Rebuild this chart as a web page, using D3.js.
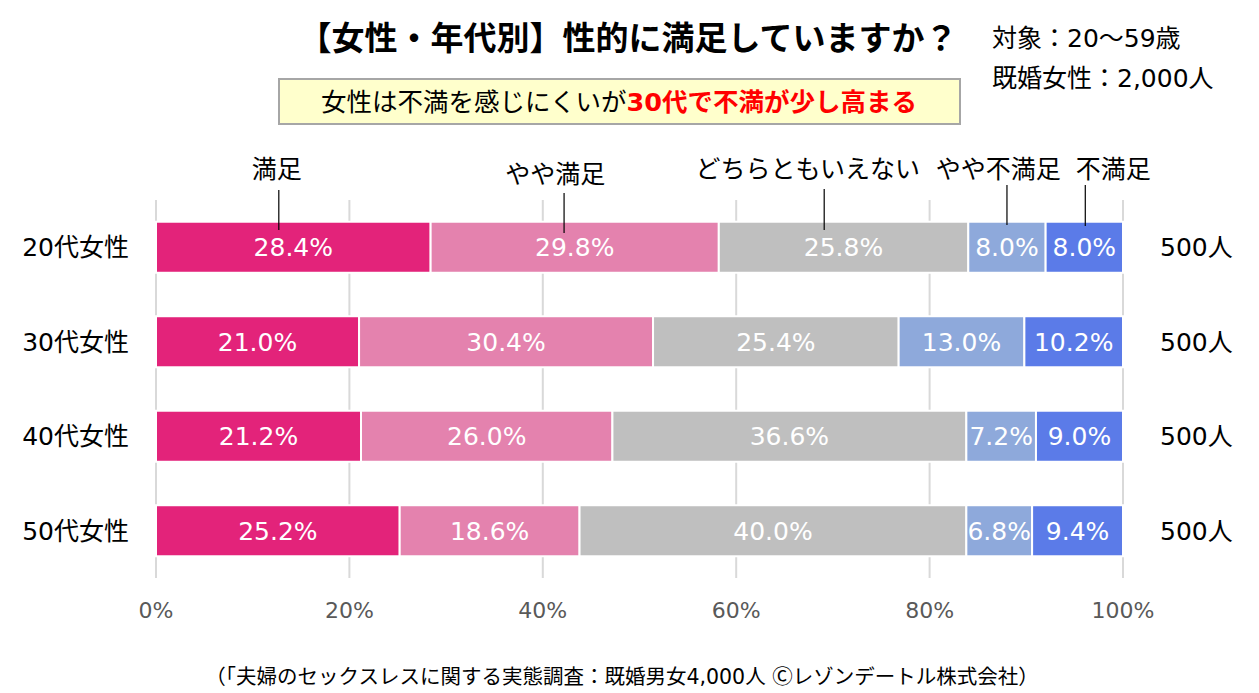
<!DOCTYPE html>
<html><head><meta charset="utf-8">
<script src="https://cdn.jsdelivr.net/npm/d3@7"></script>
<style>
html,body{margin:0;padding:0;background:#fff;}
svg{display:block;font-family:"DejaVu Sans","Noto Sans CJK JP",sans-serif;}
</style></head>
<body>
<svg id="chart" width="1259" height="693"></svg>
<script>
const rows = ["20代女性","30代女性","40代女性","50代女性"];
const series = ["満足","やや満足","どちらともいえない","やや不満足","不満足"];
const v_manzoku   = [28.4, 21.0, 21.2, 25.2];
const v_yaya      = [29.8, 30.4, 26.0, 18.6];
const v_dochira   = [25.8, 25.4, 36.6, 40.0];
const v_yayafuman = [8.0, 13.0, 7.2, 6.8];
const v_fuman     = [8.0, 10.2, 9.0, 9.4];
const nLabels = ["500人","500人","500人","500人"];
const ticks = [0,20,40,60,80,100];
const colors = ["#E3237A","#E482AE","#BFBFBF","#8EA9DB","#5B7BE8"];
// annotation anchors (percent units)
const seriesLabelX = [12.5, 41.3, 67.4, 87.1, 99.0];
const leaderX = [12.7, 42.2, 69.1, 88.0, 96.1];

const values = [v_manzoku, v_yaya, v_dochira, v_yayafuman, v_fuman];
const table = rows.map((r,i)=>{const o={row:r}; series.forEach((s,j)=>o[s]=values[j][i]); return o;});
const stacked = d3.stack().keys(series)(table);

const svg = d3.select("#chart");
const x = d3.scaleLinear().domain([0,100]).range([156,1123]);
const y = d3.scaleBand().domain(rows).range([200,578]).paddingInner(0.46).paddingOuter(0.23);

// gridlines
svg.append("g").selectAll("line").data(ticks).join("line")
  .attr("x1",d=>x(d)).attr("x2",d=>x(d)).attr("y1",200).attr("y2",578)
  .attr("stroke","#D9D9D9").attr("stroke-width",2);

// tick labels
svg.append("g").selectAll("text").data(ticks).join("text")
  .attr("x",d=>x(d)).attr("y",618).attr("text-anchor","middle")
  .attr("font-size",22).attr("fill","#595959").text(d=>d+"%");

// bars
const g = svg.append("g");
stacked.forEach((layer,j)=>{
  g.append("g").selectAll("rect").data(layer).join("rect")
    .attr("x",d=>x(d[0])).attr("width",d=>x(d[1])-x(d[0]))
    .attr("y",d=>y(d.data.row)).attr("height",y.bandwidth())
    .attr("fill",colors[j]).attr("stroke","#fff").attr("stroke-width",2);
});
stacked.forEach((layer,j)=>{
  g.append("g").selectAll("text").data(layer).join("text")
    .attr("x",d=>(x(d[0])+x(d[1]))/2).attr("y",d=>y(d.data.row)+y.bandwidth()/2)
    .attr("dy","0.36em").attr("text-anchor","middle").attr("font-size",25)
    .attr("fill","#fff").text(d=>(d[1]-d[0]).toFixed(1)+"%");
});

// row labels
svg.append("g").selectAll("text").data(rows).join("text")
  .attr("x",129).attr("y",d=>y(d)+y.bandwidth()/2).attr("dy","0.36em")
  .attr("text-anchor","end").attr("font-size",25).attr("fill","#000").text(d=>d);
svg.append("g").selectAll("text").data(rows).join("text")
  .attr("x",1160).attr("y",d=>y(d)+y.bandwidth()/2).attr("dy","0.36em")
  .attr("text-anchor","start").attr("font-size",25).attr("fill","#000").text((d,i)=>nLabels[i]);

// series labels + leader lines
const labelY = [178,183,178,178,178];
const lineTop = [190,193,189,185,185];
const lineBot = [230,233,230,225,226];
svg.append("g").selectAll("text").data(series).join("text")
  .attr("x",(d,i)=>x(seriesLabelX[i])).attr("y",(d,i)=>labelY[i])
  .attr("text-anchor","middle").attr("font-size",25).attr("fill","#000").text(d=>d);
svg.append("g").selectAll("line").data(series).join("line")
  .attr("x1",(d,i)=>x(leaderX[i])).attr("x2",(d,i)=>x(leaderX[i]))
  .attr("y1",(d,i)=>lineTop[i]).attr("y2",(d,i)=>lineBot[i])
  .attr("stroke","#000").attr("stroke-width",1.2);

// title
svg.append("text").attr("x",628).attr("y",50).attr("text-anchor","middle")
  .attr("font-size",33).attr("font-weight","bold").attr("fill","#000")
  .text("【女性・年代別】性的に満足していますか？");

// subtitle box
svg.append("rect").attr("x",279).attr("y",79).attr("width",681).attr("height",45)
  .attr("fill","#FFFFCC").attr("stroke","#A6A6A6").attr("stroke-width",2);
const st = svg.append("text").attr("x",619).attr("y",111).attr("text-anchor","middle").attr("font-size",25.5);
st.append("tspan").attr("fill","#000").text("女性は不満を感じにくいが");
st.append("tspan").attr("fill","#FF0000").attr("font-weight","bold").text("30代で不満が少し高まる");

// info
svg.append("text").attr("x",992).attr("y",47).attr("font-size",25).attr("fill","#000").text("対象：20～59歳");
svg.append("text").attr("x",992).attr("y",87).attr("font-size",25).attr("fill","#000").text("既婚女性：2,000人");

// footer
svg.append("text").attr("x",622).attr("y",684).attr("text-anchor","middle").attr("font-size",20.5).attr("fill","#000")
  .text("（「夫婦のセックスレスに関する実態調査：既婚男女4,000人 Ⓒレゾンデートル株式会社）");
</script>
</body></html>
